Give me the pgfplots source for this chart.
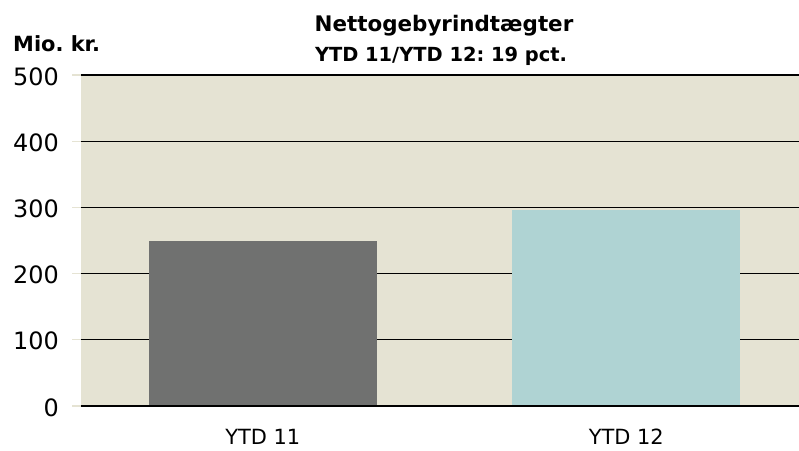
\documentclass[border=0pt]{standalone}
\usepackage{pgfplots}
\pgfplotsset{compat=1.18}
\usepackage{fontspec}
\setmainfont{DejaVu Sans}
\definecolor{bgcol}{HTML}{E5E3D3}
\definecolor{barA}{HTML}{707170}
\definecolor{barB}{HTML}{AFD3D3}
\begin{document}
\frenchspacing
\begin{tikzpicture}[x=1bp,y=1bp]
\useasboundingbox (0,0) rectangle (799,451);
\begin{axis}[
  at={(81bp,45bp)}, anchor=south west,
  scale only axis, width=718bp, height=331bp,
  ybar, bar width=0.627,
  xmin=-0.5, xmax=1.475, ymin=0, ymax=500,
  ytick={0,100,...,500},
  xtick={0,1}, xticklabels={YTD 11, YTD 12},
  axis background/.style={fill=bgcol},
  axis line style={draw=none},
  ymajorgrids, grid style={black, line width=1.3bp},
  tick pos=left, tick align=outside,
  major tick length=9bp,
  ytick style={draw=bgcol, line width=1.2bp},
  xtick style={draw=none},
  /pgf/number format/assume math mode=true,
  yticklabel style={font=\fontsize{24}{28}\selectfont, anchor=east, inner sep=0pt, xshift=-13bp, yshift=-1.5bp},
  xticklabel style={font=\fontsize{21}{25}\selectfont, anchor=north, inner sep=0pt, yshift=-14bp},
]
\addplot[fill=barA, draw=none, bar shift=0pt] coordinates {(0,249)};
\addplot[fill=barB, draw=none, bar shift=0pt] coordinates {(1,296)};
\draw[black, line width=1.3bp] (rel axis cs:0,0) -- (rel axis cs:1,0);
\end{axis}
\node[anchor=base west, inner sep=0pt, font=\bfseries\fontsize{21}{25}\selectfont] at (13,399) {Mio. kr.};
\node[anchor=base, inner sep=0pt, font=\bfseries\fontsize{21.5}{25}\selectfont] at (444,419) {Nettogebyrindtægter};
\node[anchor=base, inner sep=0pt, font=\bfseries\fontsize{19.5}{23}\selectfont] at (441,389) {YTD 11/YTD 12: 19 pct.};
\end{tikzpicture}
\end{document}
